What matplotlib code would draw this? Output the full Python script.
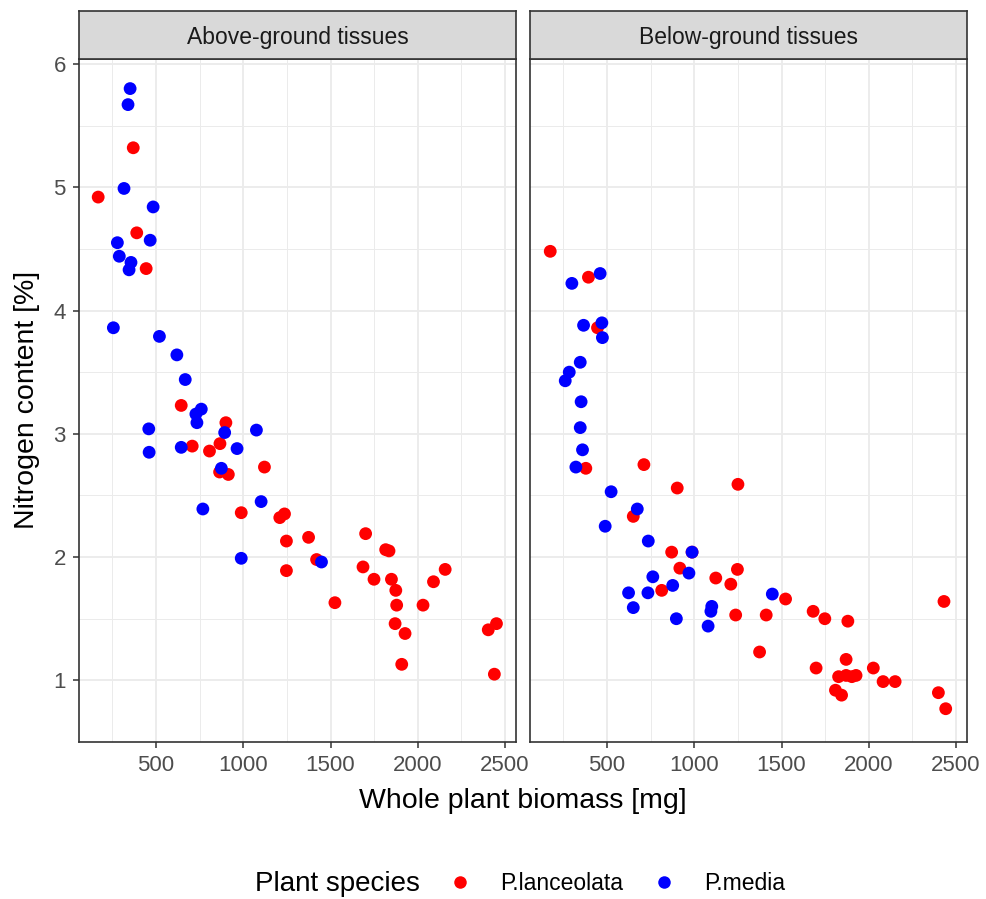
import matplotlib
matplotlib.use('Agg')
import matplotlib.pyplot as plt
from matplotlib.lines import Line2D
from matplotlib.ticker import MultipleLocator

plt.rcParams['font.family'] = ['Liberation Sans', 'DejaVu Sans']

# ==================== Data ====================
panels = ['Above-ground tissues', 'Below-ground tissues']
species = ['P.lanceolata', 'P.media']
colors = ['#FF0000', '#0000FF']

# above-ground, P.lanceolata
ag_lan_x = [168, 369, 389, 443, 644, 900, 707, 806, 866, 1121, 864, 914, 988, 1236, 1209, 1701, 1247, 1374,
            1816, 1835, 1420, 1247, 1686, 2157, 1749, 1849, 2090, 1874, 1525, 1879, 2030, 1870, 1927, 2404,
            2451, 1908, 2439]
ag_lan_y = [4.92, 5.32, 4.63, 4.34, 3.23, 3.09, 2.90, 2.86, 2.92, 2.73, 2.69, 2.67, 2.36, 2.35, 2.32, 2.19,
            2.13, 2.16, 2.06, 2.05, 1.98, 1.89, 1.92, 1.90, 1.82, 1.82, 1.80, 1.73, 1.63, 1.61, 1.61, 1.46,
            1.38, 1.41, 1.46, 1.13, 1.05]
# above-ground, P.media
ag_med_x = [351, 339, 316, 483, 466, 278, 289, 356, 345, 255, 519, 619, 667, 759, 728, 734, 893, 1075, 458,
            460, 644, 964, 874, 1102, 768, 988, 1448]
ag_med_y = [5.80, 5.67, 4.99, 4.84, 4.57, 4.55, 4.44, 4.39, 4.33, 3.86, 3.79, 3.64, 3.44, 3.20, 3.16, 3.09,
            3.01, 3.03, 3.04, 2.85, 2.89, 2.88, 2.72, 2.45, 2.39, 1.99, 1.96]
# below-ground, P.lanceolata
bg_lan_x = [174, 393, 445, 378, 711, 902, 1250, 650, 870, 987, 917, 1247, 1123, 1209, 813, 1237, 1412, 1374,
            1523, 1681, 1748, 1880, 2431, 1698, 1870, 2026, 1827, 1870, 1903, 1927, 2082, 2151, 1809, 1844,
            2399, 2441]
bg_lan_y = [4.48, 4.27, 3.86, 2.72, 2.75, 2.56, 2.59, 2.33, 2.04, 2.04, 1.91, 1.90, 1.83, 1.78, 1.73, 1.53,
            1.53, 1.23, 1.66, 1.56, 1.50, 1.48, 1.64, 1.10, 1.17, 1.10, 1.03, 1.04, 1.03, 1.04, 0.99, 0.99,
            0.92, 0.88, 0.90, 0.77]
# below-ground, P.media
bg_med_x = [460, 298, 365, 470, 473, 346, 283, 260, 351, 346, 359, 321, 523, 673, 489, 736, 987, 969, 762,
            876, 623, 734, 650, 1100, 1095, 897, 1079, 1447]
bg_med_y = [4.30, 4.22, 3.88, 3.90, 3.78, 3.58, 3.50, 3.43, 3.26, 3.05, 2.87, 2.73, 2.53, 2.39, 2.25, 2.13,
            2.04, 1.87, 1.84, 1.77, 1.71, 1.71, 1.59, 1.60, 1.56, 1.50, 1.44, 1.70]

x_ticks = [500, 1000, 1500, 2000, 2500]
y_ticks = [1, 2, 3, 4, 5, 6]

data = [
    [(ag_lan_x, ag_lan_y), (ag_med_x, ag_med_y)],
    [(bg_lan_x, bg_lan_y), (bg_med_x, bg_med_y)],
]

# ==================== Plot ====================
W, H = 986, 899
fig = plt.figure(figsize=(W / 100, H / 100), dpi=100)

panel_left = [79, 530]
panel_w = 437
panel_top, panel_bot = 59, 742
strip_top = 11

for i, name in enumerate(panels):
    ax = fig.add_axes([panel_left[i] / W, 1 - panel_bot / H, panel_w / W, (panel_bot - panel_top) / H])
    for (xs, ys), c in zip(data[i], colors):
        ax.scatter(xs, ys, s=85, color=c, edgecolors='none', zorder=3)

    ax.set_xlim(58, 2563)
    ax.set_ylim(0.5, 6.04)
    ax.set_xticks(x_ticks)
    ax.set_yticks(y_ticks)
    ax.xaxis.set_minor_locator(MultipleLocator(250))
    ax.yaxis.set_minor_locator(MultipleLocator(0.5))
    ax.grid(which='major', color='#EBEBEB', linewidth=1.3, zorder=0)
    ax.grid(which='minor', color='#EBEBEB', linewidth=0.7, zorder=0)
    ax.set_axisbelow(True)
    ax.tick_params(which='minor', length=0)
    ax.tick_params(which='major', length=4.5, width=1.1, color='#333333',
                   labelsize=16, labelcolor='#4D4D4D', pad=5)
    for sp in ax.spines.values():
        sp.set_color('#333333')
        sp.set_linewidth(1.2)
    if i == 1:
        ax.tick_params(axis='y', left=False, labelleft=False)

    # facet strip
    sax = fig.add_axes([panel_left[i] / W, 1 - panel_top / H, panel_w / W, (panel_top - strip_top) / H])
    sax.set_facecolor('#D9D9D9')
    sax.set_xticks([])
    sax.set_yticks([])
    for sp in sax.spines.values():
        sp.set_color('#333333')
        sp.set_linewidth(1.2)
    sax.text(0.5, 0.45, name, ha='center', va='center', fontsize=16.5, color='#1A1A1A',
             transform=sax.transAxes)

fig.text(523 / W, 1 - 801 / H, 'Whole plant biomass [mg]', ha='center', va='center', fontsize=20.5)
fig.text(27 / W, 1 - 400 / H, 'Nitrogen content [%]', ha='center', va='center', fontsize=20.5,
         rotation=90)

# legend
fig.text(255 / W, 1 - 884 / H, 'Plant species', ha='left', va='center', fontsize=20)
handles = [Line2D([], [], linestyle='none', marker='o', markersize=9, color=c, markeredgewidth=0)
           for c in colors]
fig.legend(handles, species, loc='center left', bbox_to_anchor=(449 / W, 1 - 884 / H), ncol=2,
           frameon=False, fontsize=16.5, handlelength=1.0, handletextpad=1.25, columnspacing=1.25,
           borderpad=0, borderaxespad=0)

fig.savefig('out.png', dpi=100)
